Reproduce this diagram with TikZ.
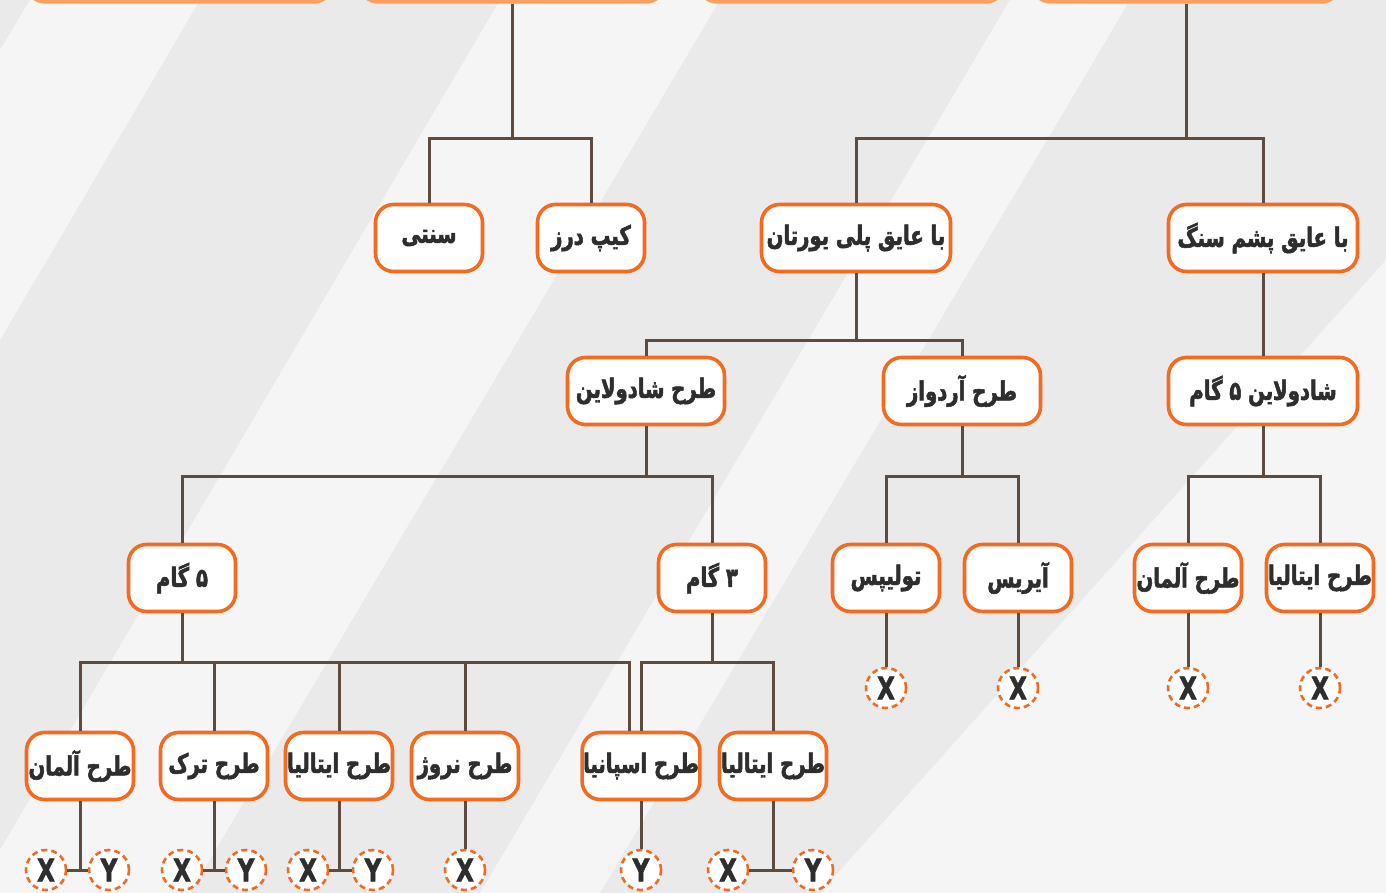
\documentclass[tikz,border=0pt]{standalone}
\usepackage{fontspec}
\usepackage{tikz}
\newfontfamily\fafont[Script=Arabic, FakeStretch=0.74, BoldFeatures={FakeBold=2}]{DejaVu Sans}
\TeXXeTstate=1

\definecolor{boxorange}{HTML}{F26B21}
\definecolor{toporange}{HTML}{F9A060}
\definecolor{linkbrown}{HTML}{5E4B3F}
\definecolor{textgray}{HTML}{2E2E2E}
\definecolor{bggray}{HTML}{EAEAEA}
\definecolor{bglight}{HTML}{F5F5F5}

\newcommand{\fa}[1]{\beginR #1\endR}

\tikzset{
    box/.style={draw=boxorange, line width=3.6pt, fill=white, rounded corners=18pt,
        minimum width=107pt, minimum height=67pt, inner sep=1pt, text=textgray,
        font=\fafont\bfseries\fontsize{26.5}{30}\selectfont},
    wide/.style={box, minimum width=157pt},
    wider/.style={box, minimum width=189pt},
    topbox/.style={draw=toporange, line width=3.5pt, fill=white, rounded corners=18pt, minimum height=64pt},
    letter/.style={circle, draw=boxorange, dash pattern=on 6pt off 4pt, line width=2.6pt, fill=white,
        minimum size=40pt, inner sep=0pt, text=textgray, font=\fafont\bfseries\fontsize{31}{34}\selectfont},
    link/.style={draw=linkbrown, line width=3pt}
}

\begin{document}
\begin{tikzpicture}[x=1pt,y=-1pt]
    \useasboundingbox (0,0) rectangle (1386,893);
    \fill[bggray] (0,0) rectangle (1386,893);
    % light bands of the background
    \fill[bglight] (30,0)--(200,0)--(0,340)--(0,50)--cycle;
    \fill[bglight] (500,0)--(720,0)--(190,893)--(0,893)--(0,850)--cycle;
    \fill[bglight] (1010,0)--(1130,0)--(600,893)--(480,893)--cycle;
    \fill[bglight] (1386,260)--(1386,893)--(820,893)--cycle;

    % top row, cut off at the edge
    \node[topbox, minimum width=305pt] (top1) at (179.5,-30) {};
    \node[topbox, minimum width=304pt] (top2) at (512,-30) {};
    \node[topbox, minimum width=305pt] (top3) at (851.5,-30) {};
    \node[topbox, minimum width=307pt] (top4) at (1186,-30) {};

    % second row
    \node[box] (sonnati) at (429,238) {\fa{سنتی}};
    \node[box] (kip) at (591,238) {\fa{کیپ درز}};
    \node[wider] (poly) at (856,238) {\fa{با عایق پلی یورتان}};
    \node[wider] (pashm) at (1263,238) {\fa{با عایق پشم سنگ}};

    % third row
    \node[wide] (shadline) at (646,391) {\fa{طرح شادولاین}};
    \node[wide] (ardvaz) at (962,391) {\fa{طرح آردواز}};
    \node[wider] (shad5) at (1263,391) {\fa{شادولاین ۵ گام}};

    % fourth row
    \node[box] (gam5) at (182,578) {\fa{۵ گام}};
    \node[box] (gam3) at (712,578) {\fa{۳ گام}};
    \node[box] (tulip) at (886,578) {\fa{تولیپس}};
    \node[box] (iris) at (1018,578) {\fa{آیریس}};
    \node[box] (alman) at (1188,578) {\fa{طرح آلمان}};
    \node[box] (italia) at (1320,578) {\fa{طرح ایتالیا}};

    % fifth row
    \node[box] (balman) at (80,766) {\fa{طرح آلمان}};
    \node[box] (btork) at (214,766) {\fa{طرح ترک}};
    \node[box] (bitalia) at (339,766) {\fa{طرح ایتالیا}};
    \node[box] (bnorw) at (465,766) {\fa{طرح نروژ}};
    \node[box] (bspain) at (641,766) {\fa{طرح اسپانیا}};
    \node[box] (bitalib) at (773,766) {\fa{طرح ایتالیا}};

    % X and Y marks
    \node[letter] (tulipx) at (886,688) {X};
    \node[letter] (irisx) at (1018,688) {X};
    \node[letter] (almanx) at (1188,688) {X};
    \node[letter] (italiax) at (1320,688) {X};
    \node[letter] (balmanx) at (46,870) {X};
    \node[letter] (balmany) at (109,870) {Y};
    \node[letter] (btorkx) at (182,870) {X};
    \node[letter] (btorky) at (246,870) {Y};
    \node[letter] (bitaliax) at (308,870) {X};
    \node[letter] (bitaliay) at (373,870) {Y};
    \node[letter] (bnorwx) at (465,870) {X};
    \node[letter] (bspainy) at (641,870) {Y};
    \node[letter] (bitalibx) at (728,870) {X};
    \node[letter] (bitaliby) at (813,870) {Y};

    % connectors
    \draw[link] (top2.south) -- ++(0,135) -| (sonnati.north);
    \draw[link] (top2.south) -- ++(0,135) -| (kip.north);
    \draw[link] (top4.south) -- ++(0,135) -| (poly.north);
    \draw[link] (top4.south) -- ++(0,135) -| (pashm.north);

    \draw[link] (poly.south) -- ++(0,67) -| (shadline.north);
    \draw[link] (poly.south) -- ++(0,67) -| (ardvaz.north);
    \draw[link] (pashm.south) -- (shad5.north);

    \draw[link] (shadline.south) -- ++(0,50) -| (gam5.north);
    \draw[link] (shadline.south) -- ++(0,50) -| (gam3.north);
    \draw[link] (ardvaz.south) -- ++(0,50) -| (tulip.north);
    \draw[link] (ardvaz.south) -- ++(0,50) -| (iris.north);
    \draw[link] (shad5.south) -- ++(0,50) -| (alman.north);
    \draw[link] (shad5.south) -- ++(0,50) -| (italia.north);

    \draw[link] (gam5.south) -- ++(0,49) -| (balman.north);
    \draw[link] (gam5.south) -- ++(0,49) -| (btork.north);
    \draw[link] (gam5.south) -- ++(0,49) -| (bitalia.north);
    \draw[link] (gam5.south) -- ++(0,49) -| (bnorw.north);
    \draw[link] (gam5.south) -- ++(0,49) -| ([xshift=-12pt]bspain.north);
    \draw[link] (gam3.south) -- ++(0,49) -| (bspain.north);
    \draw[link] (gam3.south) -- ++(0,49) -| (bitalib.north);

    \draw[link] (tulip) -- (tulipx);
    \draw[link] (iris) -- (irisx);
    \draw[link] (alman) -- (almanx);
    \draw[link] (italia) -- (italiax);

    \draw[link] (balman.south) -- (balman.south |- balmanx.center);
    \draw[link] (balmanx) -- (balmany);
    \draw[link] (btork.south) -- (btork.south |- btorkx.center);
    \draw[link] (btorkx) -- (btorky);
    \draw[link] (bitalia.south) -- (bitalia.south |- bitaliax.center);
    \draw[link] (bitaliax) -- (bitaliay);
    \draw[link] (bnorw) -- (bnorwx);
    \draw[link] (bspain) -- (bspainy);
    \draw[link] (bitalib.south) -- (bitalib.south |- bitalibx.center);
    \draw[link] (bitalibx) -- (bitaliby);
\end{tikzpicture}
\end{document}
